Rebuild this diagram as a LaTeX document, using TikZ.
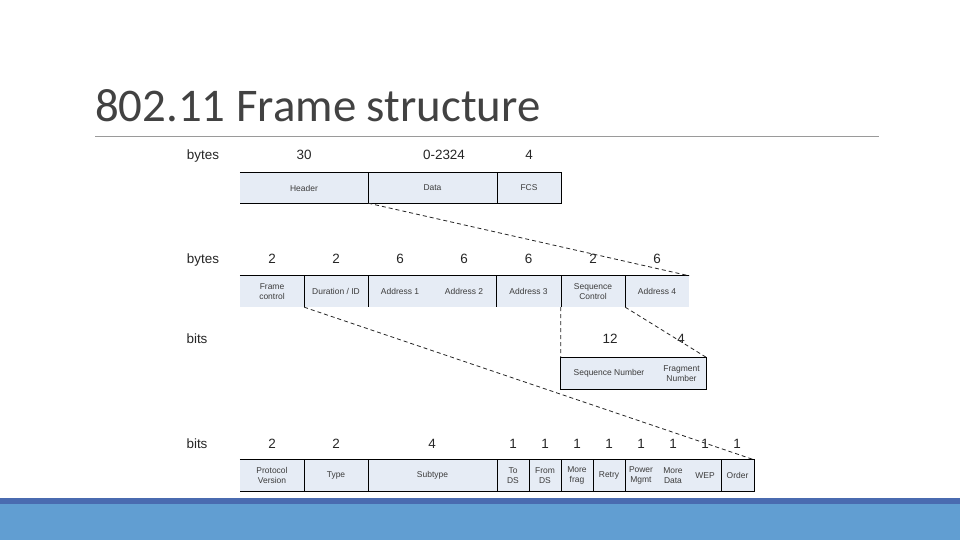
\documentclass[tikz,border=0pt]{standalone}
\usepackage{fontspec}
\setmainfont{Liberation Sans}
\newfontfamily\titlefont{Carlito}
\definecolor{boxfill}{HTML}{E6ECF5}
\definecolor{titlegray}{HTML}{424242}
\definecolor{rulegray}{HTML}{9A9A9A}
\definecolor{lbl}{HTML}{262626}
\definecolor{fldtext}{HTML}{3C3C3C}
\definecolor{barlight}{HTML}{619ED2}
\definecolor{bardark}{HTML}{4A6BB0}
\begin{document}
\begin{tikzpicture}[x=1bp,y=-1bp,
  fld/.style={fill=boxfill, inner sep=0pt, align=center, text=fldtext,
    font=\fontsize{8.5}{9.6}\selectfont},
  r1/.style={fld, minimum height=30bp},
  r2/.style={fld, minimum height=31bp},
  num/.style={anchor=base, inner sep=0pt, text=lbl, font=\fontsize{13.5}{15}\selectfont},
  edge/.style={black, line width=1bp},
  link/.style={black!85, line width=0.8bp, dash pattern=on 4bp off 3bp}]
\useasboundingbox (0,0) rectangle (960,540);
\fill[white] (0,0) rectangle (960,540);
% bottom bar
\fill[barlight] (0,498) rectangle (960,540);
\fill[bardark] (0,498) rectangle (960,504);
% title
\node[anchor=base west, inner sep=0pt, text=titlegray,
  font=\titlefont\fontsize{47}{51}\selectfont] (title) at (95,122) {802.11 Frame structure};
\coordinate (ruleL) at (95,136.5);
\coordinate (ruleR) at (879,136.5);
\draw[rulegray, line width=1bp] (ruleL) -- (ruleR);

% ---------- row 1 ----------
\node[num] (l1) at (203,160) {bytes};
\node[num] (l1a) at (304,160) {30};
\node[num] (l1b) at (444,160) {0-2324};
\node[num] (l1c) at (529,160) {4};
\node[r1, minimum width=128bp] (hdr) at (304,188) {Header};
\node[r1, minimum width=129bp] (data) at (432.5,188) {Data};
\node[r1, minimum width=64bp] (fcs) at (529,188) {FCS};
\draw[edge] (hdr.north west) -- (fcs.north east) -- (fcs.south east) -- (hdr.south west);
\draw[edge] (hdr.north east) -- (hdr.south east);
\draw[edge] (data.north east) -- (data.south east);

% ---------- row 2 ----------
\node[num] (l2) at (203,264) {bytes};
\node[num] (l2a) at (272,264) {2};
\node[num] (l2b) at (336,264) {2};
\node[num] (l2c) at (400,264) {6};
\node[num] (l2d) at (464,264) {6};
\node[num] (l2e) at (528.5,264) {6};
\node[num] (l2f) at (593,264) {2};
\node[num] (l2g) at (657,264) {6};
\node[r2, minimum width=64bp] (fc) at (272,291.5) {Frame\\control};
\node[r2, minimum width=64bp] (dur) at (336,291.5) {Duration / ID};
\node[r2, minimum width=64bp] (a1) at (400,291.5) {Address 1};
\node[r2, minimum width=64bp] (a2) at (464,291.5) {Address 2};
\node[r2, minimum width=65bp] (a3) at (528.5,291.5) {Address 3};
\node[r2, minimum width=64bp] (sc) at (593,291.5) {Sequence\\Control};
\node[r2, minimum width=64bp] (a4) at (657,291.5) {Address 4};
\draw[edge] (fc.north west) -- (a4.north east);
\foreach \n in {fc,dur,a2,a3,sc}
  \draw[edge] (\n.north east) -- (\n.south east);

% ---------- row 3 ----------
\node[num] (l3) at (197,344) {bits};
\node[num] (l3a) at (610,344) {12};
\node[num] (l3b) at (681,344) {4};
\node[fld, minimum height=32bp, minimum width=96bp] (snum) at (609,373.5) {Sequence Number};
\node[fld, minimum height=32bp, minimum width=49bp] (fnum) at (681.5,373.5) {Fragment\\Number};
\draw[edge] (snum.north west) rectangle (fnum.south east);

% ---------- row 4 ----------
\node[num] (l4) at (197,448) {bits};
\node[num] (l4a) at (272,448) {2};
\node[num] (l4b) at (336,448) {2};
\node[num] (l4c) at (432,448) {4};
\foreach \x [count=\i] in {513,545,577,609,641,673,705,737}
  \node[num] (l4d\i) at (\x,448) {1};
\node[r2, minimum width=64bp] (pv) at (272,475.5) {Protocol\\Version};
\node[r2, minimum width=64bp] (ty) at (336,475.5) {Type};
\node[r2, minimum width=129bp] (st) at (432.5,475.5) {Subtype};
\node[r2, minimum width=32bp] (tods) at (513,475.5) {To\\DS};
\node[r2, minimum width=32bp] (frds) at (545,475.5) {From\\DS};
\node[r2, minimum width=32bp] (mf) at (577,475.5) {More\\frag};
\node[r2, minimum width=32bp] (re) at (609,475.5) {Retry};
\node[r2, minimum width=32bp] (pm) at (641,475.5) {Power\\Mgmt};
\node[r2, minimum width=32bp] (md) at (673,475.5) {More\\Data};
\node[r2, minimum width=32bp] (wep) at (705,475.5) {WEP};
\node[r2, minimum width=33bp] (ord) at (737.5,475.5) {Order};
\draw[edge] (pv.north west) -- (ord.north east) -- (ord.south east) -- (pv.south west);
\foreach \n in {pv,ty,st,tods,frds,mf,re,wep}
  \draw[edge] (\n.north east) -- (\n.south east);

% ---------- dashed zoom links ----------
\draw[link] (hdr.south east) -- (a4.north east);
\draw[link] (sc.south west) -- (snum.north west);
\draw[link] (sc.south east) -- (fnum.north east);
\draw[link] (fc.south east) -- (ord.north east);
\end{tikzpicture}
\end{document}
